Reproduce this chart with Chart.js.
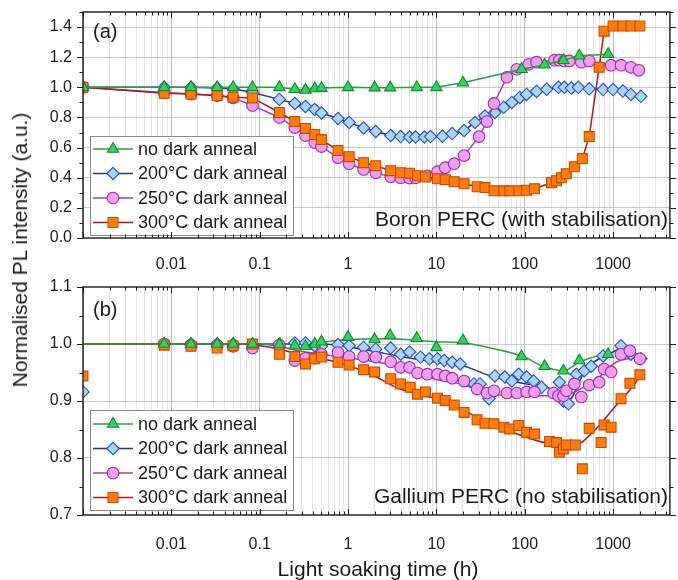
<!DOCTYPE html>
<html>
<head>
<meta charset="utf-8">
<script src="https://cdn.jsdelivr.net/npm/chart.js@4.4.1/dist/chart.umd.min.js"></script>
<style>
  body { margin: 0; background: #fff; width: 678px; height: 580px; position: relative; overflow: hidden;
         font-family: "Liberation Sans", Arial, sans-serif; color: #1a1a1a; }
  #wrapA { position: absolute; left: 0; top: 0; }
  #wrapB { position: absolute; left: 0; top: 272px; }
  #ytitle { position: absolute; left: 20px; top: 250px; transform: translate(-50%, -50%) rotate(-90deg);
            white-space: nowrap; font-size: 21px; }
  #xtitle { position: absolute; left: 378px; top: 569px; transform: translate(-50%, -50%);
            white-space: nowrap; font-size: 21px; }
</style>
</head>
<body>
<div id="wrapA"><canvas id="chartA" width="678" height="272"></canvas></div>
<div id="wrapB"><canvas id="chartB" width="678" height="308"></canvas></div>
<div id="ytitle">Normalised PL intensity (a.u.)</div>
<div id="xtitle">Light soaking time (h)</div>
<script>
// axis ticks
const xTickValues = [0.01, 0.1, 1, 10, 100, 1000];
const xTickLabels = ['0.01', '0.1', '1', '10', '100', '1000'];
const yTickValuesA = [0, 0.2, 0.4, 0.6, 0.8, 1.0, 1.2, 1.4];
const yTickLabelsA = ['0.0', '0.2', '0.4', '0.6', '0.8', '1.0', '1.2', '1.4'];
const yTickValuesB = [0.7, 0.8, 0.9, 1.0, 1.1];
const yTickLabelsB = ['0.7', '0.8', '0.9', '1.0', '1.1'];

const seriesNames = ['no dark anneal', '200°C dark anneal', '250°C dark anneal', '300°C dark anneal'];

// (a) Boron PERC - light soaking time (h) and normalised PL
const timeNoneA = [0.001, 0.0083, 0.0167, 0.033, 0.05, 0.083, 0.167, 0.25, 0.33, 0.42, 0.5, 1, 2, 3, 6, 10, 20, 92, 168, 274, 415, 880];
const valNoneA = [1.0, 1.0, 1.0, 1.0, 1.0, 1.0, 1.0, 0.987, 0.982, 0.992, 0.995, 1.0, 0.998, 0.998, 1.0, 1.0, 1.03, 1.12, 1.15, 1.18, 1.21, 1.22];

const time200A = [0.001, 0.0083, 0.0167, 0.033, 0.05, 0.083, 0.167, 0.25, 0.33, 0.42, 0.5, 0.77, 1.03, 1.5, 2.06, 3.04, 3.94, 4.97, 5.81, 7.33, 8.57, 11.7, 15.1, 20.6, 27.4, 35.5, 46, 58, 71.5, 88, 105, 136, 177, 241, 281, 337, 404, 537, 772, 1000, 1294, 1592, 2064];
const val200A = [1.0, 1.0, 1.0, 0.995, 0.99, 0.965, 0.92, 0.893, 0.873, 0.853, 0.83, 0.793, 0.767, 0.73, 0.707, 0.68, 0.673, 0.67, 0.67, 0.67, 0.673, 0.675, 0.693, 0.713, 0.767, 0.81, 0.833, 0.867, 0.9, 0.933, 0.953, 0.973, 0.987, 1.0, 1.0, 0.995, 1.0, 0.99, 0.985, 0.985, 0.975, 0.953, 0.94];

const time250A = [0.001, 0.0083, 0.0167, 0.033, 0.05, 0.083, 0.167, 0.25, 0.33, 0.42, 0.5, 0.77, 1.03, 1.5, 2.06, 3.04, 3.94, 4.97, 5.81, 7.92, 10.3, 12.6, 15.9, 20.6, 30.4, 37.4, 44.9, 62.8, 81.3, 111, 136, 217, 247, 281, 320, 437, 537, 950, 1230, 1592, 1960];
const val250A = [1.0, 0.965, 0.955, 0.945, 0.93, 0.88, 0.8, 0.733, 0.68, 0.633, 0.607, 0.533, 0.493, 0.455, 0.433, 0.407, 0.4, 0.398, 0.4, 0.413, 0.44, 0.467, 0.493, 0.547, 0.673, 0.773, 0.893, 1.067, 1.12, 1.153, 1.167, 1.18, 1.18, 1.175, 1.175, 1.167, 1.175, 1.147, 1.147, 1.133, 1.113];

const time300A = [0.001, 0.0083, 0.0167, 0.033, 0.05, 0.083, 0.167, 0.25, 0.33, 0.42, 0.5, 0.77, 1.03, 1.5, 2.06, 3.04, 3.94, 4.97, 6.12, 7.52, 10.3, 12.6, 15.9, 20.6, 28.9, 35.5, 44.9, 58.1, 67.8, 85.6, 105, 129, 201, 229, 260, 296, 365, 449, 537, 696, 792, 1000, 1294, 1592, 2011];
const val300A = [1.0, 0.96, 0.955, 0.945, 0.935, 0.93, 0.833, 0.773, 0.727, 0.687, 0.653, 0.58, 0.54, 0.5, 0.48, 0.447, 0.433, 0.43, 0.413, 0.405, 0.393, 0.387, 0.373, 0.36, 0.34, 0.335, 0.313, 0.313, 0.313, 0.313, 0.317, 0.327, 0.367, 0.38, 0.4, 0.427, 0.473, 0.527, 0.673, 1.133, 1.373, 1.407, 1.407, 1.407, 1.407];

// (b) Gallium PERC - measured points
const timeNoneB = [0.0083, 0.0167, 0.033, 0.05, 0.083, 0.167, 0.25, 0.33, 0.42, 0.5, 1, 2, 3, 6, 10, 20, 92, 168, 274, 415, 880];
const valNoneB = [1.0, 1.0, 1.0, 1.0, 1.0, 0.999, 0.997, 0.996, 1.0, 1.004, 1.012, 1.008, 1.015, 1.01, 0.994, 1.006, 0.978, 0.961, 0.953, 0.971, 0.982];

const time200B = [0.001, 0.0083, 0.0167, 0.033, 0.05, 0.083, 0.167, 0.25, 0.33, 0.42, 0.5, 0.77, 1.03, 1.5, 2.06, 3.04, 3.94, 4.97, 6.6, 8.34, 10.3, 12.3, 15.1, 18.6, 26.7, 31.2, 39.4, 46, 59.6, 71.5, 85.6, 105, 126, 155, 247, 274, 312, 384, 472, 566, 772, 1230, 1592, 2064];
const val200B = [0.916, 1.0, 1.0, 1.0, 1.0, 1.0, 1.0, 1.002, 1.002, 0.997, 0.996, 0.999, 0.997, 0.994, 0.991, 0.993, 0.982, 0.986, 0.977, 0.974, 0.974, 0.971, 0.968, 0.965, 0.93, 0.93, 0.904, 0.944, 0.942, 0.935, 0.947, 0.942, 0.935, 0.924, 0.933, 0.9, 0.895, 0.947, 0.953, 0.961, 0.979, 0.997, 0.982, 0.974];

const time250B = [0.0083, 0.0167, 0.033, 0.05, 0.083, 0.167, 0.25, 0.33, 0.42, 0.5, 0.77, 1.03, 1.5, 2.06, 3.04, 3.94, 4.97, 6.12, 7.92, 10.3, 12.6, 15.1, 20.6, 28.9, 37.4, 44.9, 62.8, 81.3, 105, 129, 212, 241, 274, 296, 365, 437, 537, 696, 792, 950, 1230, 1552, 2011];
const val250B = [1.0, 0.998, 0.998, 0.996, 0.993, 0.998, 0.971, 0.975, 0.975, 0.982, 0.985, 0.978, 0.978, 0.977, 0.969, 0.959, 0.959, 0.949, 0.947, 0.947, 0.944, 0.94, 0.935, 0.921, 0.914, 0.918, 0.914, 0.914, 0.916, 0.916, 0.914, 0.909, 0.909, 0.918, 0.93, 0.907, 0.928, 0.933, 0.956, 0.951, 0.982, 0.988, 0.974];

const time300B = [0.001, 0.0083, 0.0167, 0.033, 0.05, 0.083, 0.167, 0.25, 0.33, 0.42, 0.5, 0.77, 1.03, 1.5, 2.0, 3.04, 3.94, 5.06, 6.12, 7.52, 10.3, 12.6, 15.9, 20.6, 28.9, 35.5, 44.9, 58.1, 67.8, 85.6, 105, 129, 191, 229, 247, 274, 296, 374, 449, 537, 733, 792, 950, 1230, 1552, 2011];
const val300B = [0.944, 0.998, 0.996, 0.993, 0.997, 1.0, 0.982, 0.978, 0.965, 0.974, 0.977, 0.968, 0.963, 0.955, 0.951, 0.939, 0.93, 0.924, 0.912, 0.916, 0.905, 0.901, 0.893, 0.88, 0.867, 0.861, 0.86, 0.854, 0.851, 0.857, 0.845, 0.842, 0.829, 0.827, 0.81, 0.816, 0.823, 0.823, 0.781, 0.852, 0.827, 0.858, 0.854, 0.904, 0.931, 0.946];

// (b) fitted guide curves
const fitTimeNoneB = [0.001, 0.3, 1, 3, 10, 20, 50, 100, 155, 274, 415, 880];
const fitValNoneB = [1.0, 1.0, 1.008, 1.009, 1.004, 1.002, 0.99, 0.977, 0.962, 0.953, 0.968, 0.985];
const fitTime200B = [0.001, 0.5, 1.8, 3.9, 10, 18.6, 45, 105, 177, 296, 497, 1000, 1294, 1960];
const fitVal200B = [1.0, 1.0, 0.988, 0.978, 0.968, 0.963, 0.942, 0.93, 0.925, 0.897, 0.956, 0.986, 0.993, 0.977];
const fitTime250B = [0.001, 0.1, 0.33, 1.8, 3.9, 10, 18.6, 45, 105, 250, 320, 696, 1080, 1960];
const fitVal250B = [1.0, 1.0, 0.986, 0.97, 0.96, 0.938, 0.93, 0.912, 0.909, 0.909, 0.912, 0.942, 0.968, 0.977];
const fitTime300B = [0.001, 0.058, 0.136, 0.33, 0.77, 1.8, 3.9, 10, 58, 191, 355, 596, 1000, 1813, 2064];
const fitVal300B = [1.0, 1.0, 0.994, 0.979, 0.968, 0.947, 0.921, 0.904, 0.851, 0.825, 0.821, 0.846, 0.886, 0.933, 0.947];

const styles = [
  { line: '#27a13c', fill: '#35d062', edge: '#15862c', shape: 'triangle', r: 6.5 },
  { line: '#2232a6', fill: '#a8d6f4', edge: '#2a4cc4', shape: 'rectRot', r: 6.2 },
  { line: '#a53db2', fill: '#f09ef0', edge: '#9b2fa9', shape: 'circle', r: 5.8 },
  { line: '#a51c1c', fill: '#ff7d0a', edge: '#c84a00', shape: 'rect', r: 7 }
];
const drawOrder = [0, 3, 2, 1]; // green on top, blue underneath

Chart.defaults.font.family = '"Liberation Sans", Arial, sans-serif';
Chart.defaults.color = '#1a1a1a';

function pts(t, v) {
  return t.map((x, i) => ({ x: x, y: v[i] }));
}

function markerSet(i, t, v, withLine) {
  const s = styles[i];
  return {
    data: pts(t, v),
    showLine: withLine,
    borderColor: s.line,
    borderWidth: 1.5,
    tension: 0,
    pointStyle: s.shape,
    pointRadius: s.r,
    pointBackgroundColor: s.fill,
    pointBorderColor: s.edge,
    pointBorderWidth: 1.1,
    order: drawOrder[i]
  };
}

function fitSet(i, t, v) {
  return {
    data: pts(t, v),
    borderColor: styles[i].line,
    borderWidth: 1.5,
    pointRadius: 0,
    cubicInterpolationMode: 'monotone',
    order: 20 + drawOrder[i]
  };
}

function isDecade(v) {
  const l = Math.log10(v);
  return Math.abs(l - Math.round(l)) < 1e-6;
}

function xAxis(h, pad) {
  return {
    type: 'logarithmic', min: 0.001, max: 4400,
    afterBuildTicks: s => {
      const t = [];
      for (let e = -3; e <= 3; e++) {
        for (let k = 1; k <= 9; k++) {
          const v = k * Math.pow(10, e);
          if (v >= 0.001 && v <= 4400) t.push({ value: v });
        }
      }
      s.ticks = t;
    },
    ticks: {
      autoSkip: false, maxRotation: 0, padding: pad, font: { size: 16 },
      callback: v => {
        const i = xTickValues.findIndex(d => Math.abs(d - v) / d < 1e-6);
        return i >= 0 ? xTickLabels[i] : '';
      }
    },
    grid: {
      drawTicks: false,
      color: c => isDecade(c.tick.value) ? '#bdbdbd' : '#e6e6e6'
    },
    border: { display: false },
    afterFit: s => { s.height = h; s.paddingLeft = 0; s.paddingRight = 0; }
  };
}

function yAxis(min, max, step, majVals, majLabels) {
  return {
    type: 'linear', min: min, max: max,
    afterBuildTicks: s => {
      const t = [];
      const n = Math.round((max - min) / step);
      for (let i = 0; i <= n; i++) t.push({ value: +(min + i * step).toFixed(4) });
      s.ticks = t;
    },
    ticks: {
      autoSkip: false, padding: 11, font: { size: 16 },
      callback: v => {
        const i = majVals.findIndex(m => Math.abs(m - v) < 1e-6);
        return i >= 0 ? majLabels[i] : '';
      }
    },
    grid: {
      drawTicks: false,
      color: c => {
        const v = c.tick.value;
        const major = majVals.some(m => Math.abs(m - v) < 1e-6);
        return major && v > min + 1e-6 && v < max - 1e-6 ? '#c8c8c8' : 'rgba(0,0,0,0)';
      }
    },
    border: { display: false },
    afterFit: s => { s.width = 83; s.paddingTop = 0; s.paddingBottom = 0; }
  };
}

// black box with inward x ticks and outward y ticks
const framePlugin = {
  id: 'frame',
  afterDraw(chart) {
    const { ctx, chartArea: a } = chart;
    const x = chart.scales.x, y = chart.scales.y;
    ctx.save();
    ctx.strokeStyle = '#1a1a1a';
    ctx.lineWidth = 1;
    ctx.beginPath();
    x.ticks.forEach(t => {
      const px = Math.round(x.getPixelForValue(t.value)) + 0.5;
      const len = isDecade(t.value) ? 6 : 3.5;
      ctx.moveTo(px, a.bottom); ctx.lineTo(px, a.bottom - len);
      ctx.moveTo(px, a.top); ctx.lineTo(px, a.top + len);
    });
    y.ticks.forEach(t => {
      const py = Math.round(y.getPixelForValue(t.value)) + 0.5;
      const len = t.label ? 6 : 3.5;
      ctx.moveTo(a.left - len, py); ctx.lineTo(a.left, py);
      ctx.moveTo(a.right, py); ctx.lineTo(a.right + len, py);
    });
    ctx.stroke();
    ctx.lineWidth = 1.4;
    ctx.strokeRect(a.left, a.top, a.right - a.left, a.bottom - a.top);
    ctx.restore();
  }
};

// legend box, panel tag and sample name
const panelPlugin = {
  id: 'panel',
  afterDatasetsDraw(chart, args, o) {
    const ctx = chart.ctx;
    ctx.save();
    ctx.fillStyle = '#fff';
    ctx.fillRect(o.box[0], o.box[1], o.box[2], o.box[3]);
    ctx.strokeStyle = '#8c8c8c';
    ctx.lineWidth = 1;
    ctx.strokeRect(o.box[0] + 0.5, o.box[1] + 0.5, o.box[2], o.box[3]);
    seriesNames.forEach((name, i) => {
      const s = styles[i];
      const yy = o.rowY + i * o.rowGap;
      ctx.strokeStyle = s.line;
      ctx.lineWidth = 1.6;
      ctx.beginPath();
      ctx.moveTo(93, yy); ctx.lineTo(133, yy);
      ctx.stroke();
      ctx.fillStyle = s.fill;
      ctx.strokeStyle = s.edge;
      ctx.lineWidth = 1.1;
      if (Chart.helpers && Chart.helpers.drawPoint) {
        Chart.helpers.drawPoint(ctx, { pointStyle: s.shape, radius: s.r, rotation: 0, borderWidth: 1.1 }, 113, yy);
      }
      ctx.fillStyle = '#1a1a1a';
      ctx.font = '18px "Liberation Sans", Arial, sans-serif';
      ctx.textAlign = 'left';
      ctx.textBaseline = 'middle';
      ctx.fillText(name, 138, yy + 1);
    });
    ctx.fillStyle = '#1a1a1a';
    ctx.textBaseline = 'middle';
    ctx.font = '20px "Liberation Sans", Arial, sans-serif';
    ctx.textAlign = 'left';
    ctx.fillText(o.tag, 93, o.tagY);
    ctx.font = '21px "Liberation Sans", Arial, sans-serif';
    ctx.textAlign = 'right';
    ctx.fillText(o.note, 668, o.noteY);
    ctx.restore();
  }
};

const common = {
  responsive: false,
  animation: false,
  events: [],
  plugins: { legend: { display: false }, tooltip: { enabled: false } }
};

new Chart(document.getElementById('chartA'), {
  type: 'line',
  data: {
    datasets: [
      markerSet(0, timeNoneA, valNoneA, true),
      markerSet(1, time200A, val200A, true),
      markerSet(2, time250A, val250A, true),
      markerSet(3, time300A, val300A, true)
    ]
  },
  options: Object.assign({}, common, {
    layout: { padding: { top: 12, right: 4, left: 0, bottom: 0 } },
    scales: { x: xAxis(34, 17), y: yAxis(0, 1.5, 0.1, yTickValuesA, yTickLabelsA) },
    plugins: Object.assign({}, common.plugins, {
      panel: { box: [90, 136, 203, 99], rowY: 149, rowGap: 24.5, tag: '(a)', tagY: 32,
               note: 'Boron PERC (with stabilisation)', noteY: 220 }
    })
  }),
  plugins: [panelPlugin, framePlugin]
});

new Chart(document.getElementById('chartB'), {
  type: 'line',
  data: {
    datasets: [
      fitSet(0, fitTimeNoneB, fitValNoneB),
      fitSet(1, fitTime200B, fitVal200B),
      fitSet(2, fitTime250B, fitVal250B),
      fitSet(3, fitTime300B, fitVal300B),
      markerSet(0, timeNoneB, valNoneB, false),
      markerSet(1, time200B, val200B, false),
      markerSet(2, time250B, val250B, false),
      markerSet(3, time300B, val300B, false)
    ]
  },
  options: Object.assign({}, common, {
    layout: { padding: { top: 15, right: 4, left: 0, bottom: 0 } },
    scales: { x: xAxis(65, 20), y: yAxis(0.7, 1.1, 0.05, yTickValuesB, yTickLabelsB) },
    plugins: Object.assign({}, common.plugins, {
      panel: { box: [90, 138, 203, 100], rowY: 152, rowGap: 24.5, tag: '(b)', tagY: 38,
               note: 'Gallium PERC (no stabilisation)', noteY: 225 }
    })
  }),
  plugins: [panelPlugin, framePlugin]
});
</script>
</body>
</html>
